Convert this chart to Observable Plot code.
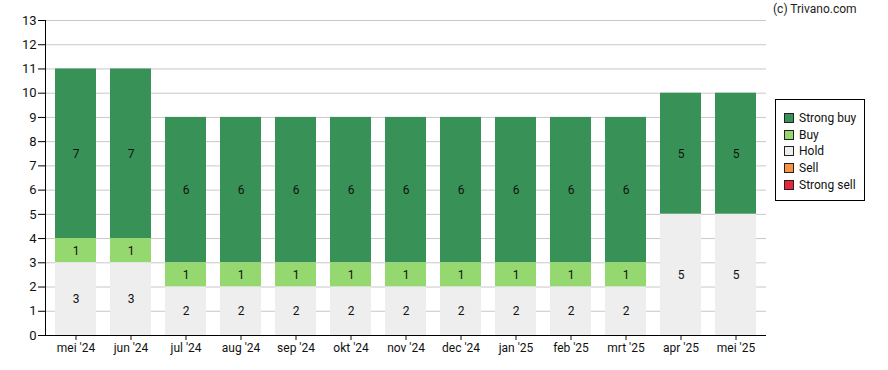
<!DOCTYPE html>
<html>
<head>
<meta charset="utf-8">
<script src="https://cdn.jsdelivr.net/npm/d3@7"></script>
<script src="https://cdn.jsdelivr.net/npm/@observablehq/plot@0.6"></script>
<style>
  body { margin: 0; background: #fff; font-family: Roboto, "Liberation Sans", sans-serif; }
  #wrap { position: relative; width: 888px; height: 370px; }
  #credit { position: absolute; left: 773px; top: 2px; font-size: 12px; color: #222; }
  #legend { position: absolute; left: 775px; top: 99px; width: 90px; height: 102px; border: 1px solid #000; box-sizing: border-box; background: #fff; font-size: 12px; color: #111; padding: 10px 0 0 8px; }
  .item { height: 16.7px; line-height: 16px; white-space: nowrap; }
  .sw { display: inline-block; width: 8px; height: 8px; border: 1px solid #222; margin-right: 5px; vertical-align: -1px; }
</style>
</head>
<body>
<div id="wrap">
  <div id="chart"></div>
  <div id="credit">(c) Trivano.com</div>
  <div id="legend"></div>
</div>
<script>
const months = ["mei '24","jun '24","jul '24","aug '24","sep '24","okt '24","nov '24","dec '24","jan '25","feb '25","mrt '25","apr '25","mei '25"];
const strongBuy = [7,7,6,6,6,6,6,6,6,6,6,5,5];
const buy       = [1,1,1,1,1,1,1,1,1,1,1,0,0];
const hold      = [3,3,2,2,2,2,2,2,2,2,2,5,5];
const sell      = [0,0,0,0,0,0,0,0,0,0,0,0,0];
const strongSell= [0,0,0,0,0,0,0,0,0,0,0,0,0];
const categories = ["Strong buy","Buy","Hold","Sell","Strong sell"];
const colors = ["#389257","#95d86f","#eeeeee","#f79444","#e8253b"];
const yTicks = [0,1,2,3,4,5,6,7,8,9,10,11,12,13];

const series = [strongBuy, buy, hold, sell, strongSell];
const stackOrder = ["Strong sell","Sell","Hold","Buy","Strong buy"];
const data = [];
months.forEach((m, i) => {
  categories.forEach((c, k) => data.push({month: m, cat: c, value: series[k][i]}));
});

const chart = Plot.plot({
  width: 888,
  height: 370,
  marginLeft: 45,
  marginRight: 122,
  marginTop: 20,
  marginBottom: 35,
  style: {fontFamily: "Roboto, 'Liberation Sans', sans-serif", fontSize: "12px", color: "#111", background: "#fff"},
  x: {domain: months, paddingInner: 0.26, paddingOuter: 0.145, label: null},
  y: {domain: [0, 13], label: null},
  color: {domain: categories, range: colors},
  marks: [
    Plot.gridY(yTicks, {stroke: "#c8c8c8", strokeOpacity: 1}),
    Plot.barY(data, Plot.stackY({x: "month", y: "value", z: "cat", fill: "cat", order: stackOrder, inset: 0})),
    Plot.text(data, Plot.stackY({x: "month", y: "value", z: "cat", order: stackOrder, text: d => d.value > 0 ? String(d.value) : "", fill: "#111", fontSize: 12})),
    Plot.axisY({ticks: yTicks, tickSize: 7, tickPadding: 2, fontSize: 13, label: null, stroke: "#000"}),
    Plot.axisX({tickSize: 5, tickPadding: 3, fontSize: 12, label: null}),
    Plot.ruleY([0], {stroke: "#000"})
  ]
});
document.getElementById("chart").appendChild(chart);

// left axis line
const svg = d3.select(chart);
svg.append("line").attr("x1", 45.5).attr("x2", 45.5).attr("y1", 20).attr("y2", 335).attr("stroke", "#000");

const legend = document.getElementById("legend");
categories.forEach((c, k) => {
  const div = document.createElement("div");
  div.className = "item";
  div.innerHTML = `<span class="sw" style="background:${colors[k]}"></span>${c}`;
  legend.appendChild(div);
});
</script>
</body>
</html>
